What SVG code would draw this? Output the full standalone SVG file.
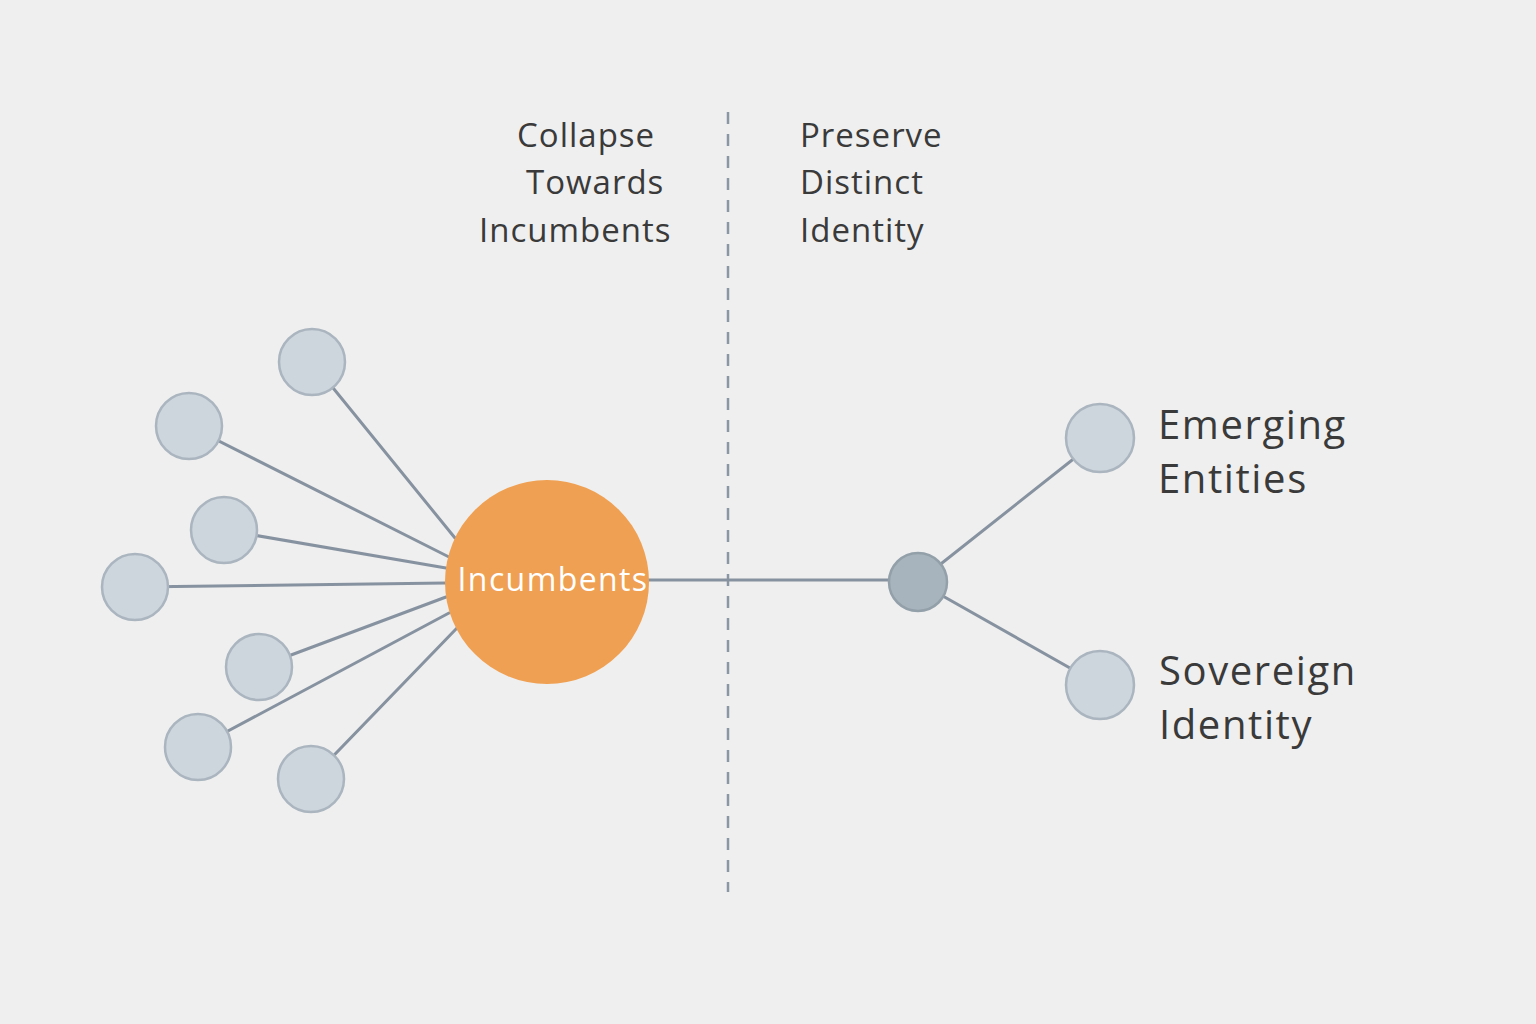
<svg xmlns="http://www.w3.org/2000/svg" width="1536" height="1024" viewBox="0 0 1536 1024">
<style>
.bg{fill:#efefef}
.leaf{fill:#cdd5dd;stroke:#aab5bf;stroke-width:2.5}
.hub{fill:#a8b4bd;stroke:#93a0aa;stroke-width:2.5}
.core{fill:#f0a052}
.conn{stroke:#8792a0;stroke-width:3;fill:none;stroke-linecap:round}
.div{stroke:#8a96a3;stroke-width:2.5;stroke-dasharray:12 10;fill:none}
text{font-variant-ligatures:none}
.hdr{font-family:"Open Sans","Noto Sans",sans-serif;font-size:33px;letter-spacing:1px;fill:#3a3a3a}
.lbl{font-family:"Open Sans","Noto Sans",sans-serif;font-size:40px;letter-spacing:1.6px;fill:#3a3a3a}
.in{font-family:"Open Sans","Noto Sans",sans-serif;font-size:32px;letter-spacing:1.4px;fill:#ffffff}
</style>
<rect class="bg" x="0" y="0" width="1536" height="1024"/>
<line class="div" x1="728" y1="112" x2="728" y2="892"/>
<g id="headers">
<text class="hdr" x="517" y="147">Collapse</text>
<text class="hdr" x="526" y="194">Towards</text>
<text class="hdr" x="479" y="242">Incumbents</text>
<text class="hdr" x="800" y="147">Preserve</text>
<text class="hdr" x="800" y="194">Distinct</text>
<text class="hdr" x="800" y="242">Identity</text>
</g>
<g id="connectors">
<line class="conn" x1="312" y1="362" x2="455" y2="538"/>
<line class="conn" x1="189" y1="426" x2="449" y2="557"/>
<line class="conn" x1="224" y1="530" x2="446" y2="568"/>
<line class="conn" x1="135" y1="587" x2="446" y2="583"/>
<line class="conn" x1="259" y1="667" x2="446" y2="597"/>
<line class="conn" x1="198" y1="747" x2="449" y2="613"/>
<line class="conn" x1="311" y1="779" x2="457" y2="628"/>
<line class="conn" x1="646" y1="580" x2="918" y2="580"/>
<line class="conn" x1="918" y1="582" x2="1100" y2="438"/>
<line class="conn" x1="918" y1="582" x2="1100" y2="685"/>
</g>
<g id="leaf1"><circle class="leaf" cx="312" cy="362" r="33"/></g>
<g id="leaf2"><circle class="leaf" cx="189" cy="426" r="33"/></g>
<g id="leaf3"><circle class="leaf" cx="224" cy="530" r="33"/></g>
<g id="leaf4"><circle class="leaf" cx="135" cy="587" r="33"/></g>
<g id="leaf5"><circle class="leaf" cx="259" cy="667" r="33"/></g>
<g id="leaf6"><circle class="leaf" cx="198" cy="747" r="33"/></g>
<g id="leaf7"><circle class="leaf" cx="311" cy="779" r="33"/></g>
<g id="incumbents">
<circle class="core" cx="547" cy="582" r="102"/>
<text class="in" x="553" y="591" text-anchor="middle">Incumbents</text>
</g>
<g id="hub"><circle class="hub" cx="918" cy="582" r="29"/></g>
<g id="emerging">
<circle class="leaf" cx="1100" cy="438" r="34"/>
<text class="lbl" x="1158" y="439">Emerging</text>
<text class="lbl" x="1158" y="493">Entities</text>
</g>
<g id="sovereign">
<circle class="leaf" cx="1100" cy="685" r="34"/>
<text class="lbl" x="1159" y="685">Sovereign</text>
<text class="lbl" x="1159" y="739">Identity</text>
</g>
</svg>
